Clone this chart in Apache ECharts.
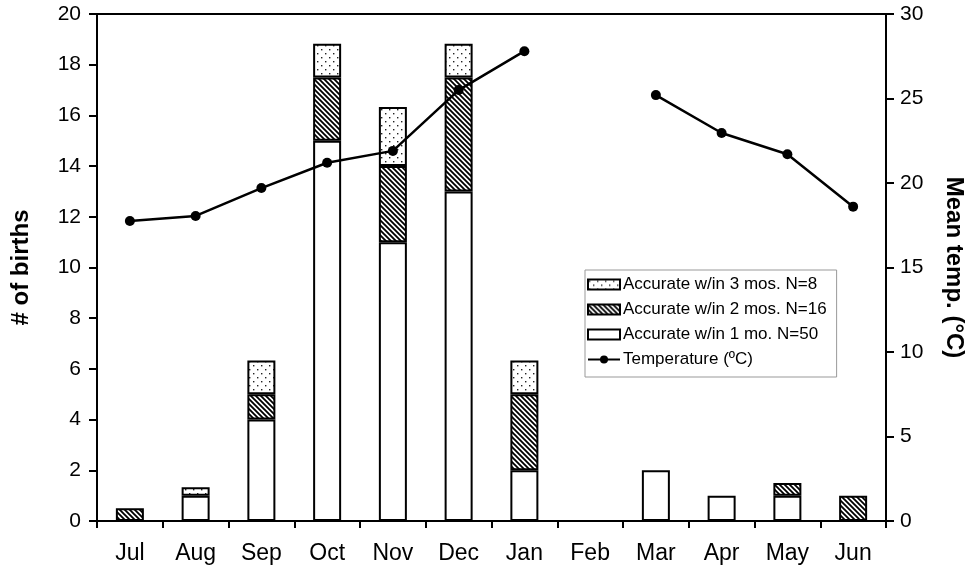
<!DOCTYPE html>
<html><head><meta charset="utf-8">
<script src="https://cdn.jsdelivr.net/npm/echarts@6/dist/echarts.min.js"></script>
<style>html,body{margin:0;padding:0;background:#fff}#c{width:974px;height:573px}</style>
</head><body><div id="c"></div>
<script>
const months = ['Jul','Aug','Sep','Oct','Nov','Dec','Jan','Feb','Mar','Apr','May','Jun'];
const acc1 = [0, 1, 4, 15, 11, 13, 2, 0, 2, 1, 1, 0];
const acc2 = [0.5, 0, 1, 2.5, 3, 4.5, 3, 0, 0, 0, 0.5, 1];
const acc3 = [0, 0.33, 1.33, 1.33, 2.33, 1.33, 1.33, 0, 0, 0, 0, 0];
const temp = [17.75, 18.05, 19.7, 21.2, 21.9, 25.5, 27.8, null, 25.2, 22.96, 21.7, 18.6];
const leftTicks = {min: 0, max: 20, interval: 2};
const rightTicks = {min: 0, max: 30, interval: 5};
const names = ['Accurate w/in 1 mo. N=50', 'Accurate w/in 2 mos. N=16', 'Accurate w/in 3 mos. N=8', 'Temperature (ºC)'];

function hatch(){
  const c = document.createElement('canvas'); c.width = 5; c.height = 5;
  const g = c.getContext('2d'); g.fillStyle = '#fff'; g.fillRect(0,0,5,5);
  g.strokeStyle = '#000'; g.lineWidth = 1.8;
  g.beginPath();
  g.moveTo(-1,-1); g.lineTo(6,6);
  g.moveTo(-4,1); g.lineTo(1,6);
  g.moveTo(1,-4); g.lineTo(6,1);
  g.stroke();
  return c;
}
function dots(){
  const c = document.createElement('canvas'); c.width = 8; c.height = 8;
  const g = c.getContext('2d'); g.fillStyle = '#fff'; g.fillRect(0,0,8,8);
  g.fillStyle = '#222';
  g.fillRect(1,1,1.4,1.4); g.fillRect(5,5,1.4,1.4);
  return c;
}
const nz = arr => arr.map(v => v === 0 ? '-' : v);
const font = 'Liberation Sans, Arial, sans-serif';
const chart = echarts.init(document.getElementById('c'));
const barBase = {type: 'bar', stack: 'b', barWidth: 28, yAxisIndex: 0, z: 2};
const axisName = {fontSize: 24, fontWeight: 'bold', color: '#000', fontFamily: font};
chart.setOption({
  animation: false,
  textStyle: {fontFamily: font, color: '#000'},
  grid: {left: 97, right: 87, top: 14, bottom: 52, show: true, borderColor: '#000', borderWidth: 2, backgroundColor: 'transparent'},
  legend: {
    orient: 'vertical', left: 585, top: 270, itemWidth: 32, itemHeight: 10, itemGap: 8,
    padding: [6, 10, 9, 2], borderColor: '#999', borderWidth: 1, backgroundColor: '#fff',
    textStyle: {fontSize: 17, color: '#000', fontFamily: font, padding: [0,0,0,-2]},
    data: [{name: names[2], icon: 'rect'}, {name: names[1], icon: 'rect'}, {name: names[0], icon: 'rect'}, {name: names[3]}]
  },
  xAxis: {
    type: 'category', data: months, boundaryGap: true,
    axisLine: {lineStyle: {color: '#000', width: 2}},
    axisTick: {show: true, inside: false, length: 7, lineStyle: {color: '#000', width: 2}},
    axisLabel: {fontSize: 23, color: '#000', margin: 21, fontFamily: font}
  },
  yAxis: [
    {type: 'value', min: leftTicks.min, max: leftTicks.max, interval: leftTicks.interval,
     name: '# of births', nameLocation: 'middle', nameGap: 64, nameRotate: 90, nameTextStyle: axisName,
     axisLine: {show: true, lineStyle: {color: '#000', width: 2}},
     axisTick: {show: true, length: 8, lineStyle: {color: '#000', width: 2}},
     splitLine: {show: false},
     axisLabel: {fontSize: 21, color: '#000', margin: 16, fontFamily: font}},
    {type: 'value', min: rightTicks.min, max: rightTicks.max, interval: rightTicks.interval, position: 'right',
     name: 'Mean temp. (°C)', nameLocation: 'middle', nameGap: 56, nameRotate: -90, nameTextStyle: axisName,
     axisLine: {show: true, lineStyle: {color: '#000', width: 2}},
     axisTick: {show: true, length: 8, lineStyle: {color: '#000', width: 2}},
     splitLine: {show: false},
     axisLabel: {fontSize: 21, color: '#000', margin: 14, fontFamily: font}}
  ],
  series: [
    Object.assign({}, barBase, {name: names[0], data: nz(acc1),
      itemStyle: {color: '#fff', borderColor: '#000', borderWidth: 2}}),
    Object.assign({}, barBase, {name: names[1], data: nz(acc2),
      itemStyle: {color: {image: hatch(), repeat: 'repeat'}, borderColor: '#000', borderWidth: 2}}),
    Object.assign({}, barBase, {name: names[2], data: nz(acc3),
      itemStyle: {color: {image: dots(), repeat: 'repeat'}, borderColor: '#000', borderWidth: 2}}),
    {type: 'line', name: names[3], yAxisIndex: 1, data: temp, connectNulls: false,
     symbol: 'circle', symbolSize: 10, z: 5,
     lineStyle: {color: '#000', width: 2.5}, itemStyle: {color: '#000'}}
  ]
});
</script></body></html>
